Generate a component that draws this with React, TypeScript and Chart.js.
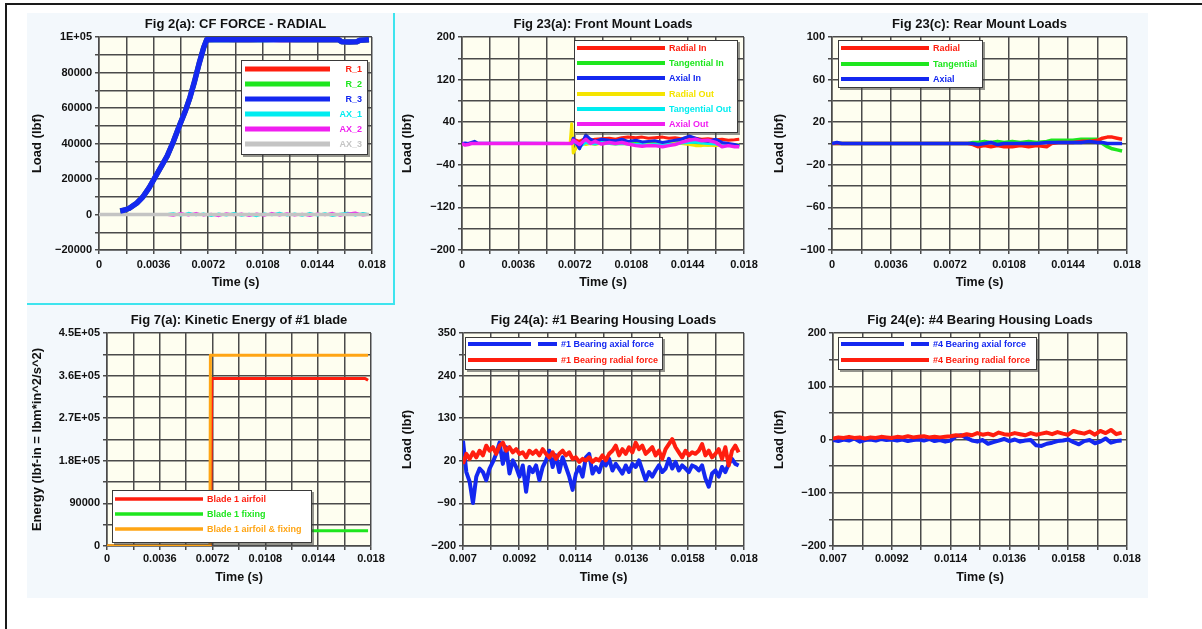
import React, { useEffect, useRef } from 'react';
import { Chart, registerables } from 'chart.js';

const FONT = '"Liberation Sans", Arial, Helvetica, sans-serif';

const RED = '#ff1e0f';
const GREEN = '#1ee61e';
const BLUE = '#1428f0';
const CYAN = '#00ecf0';
const MAGENTA = '#f01ef0';
const GRAY = '#c4c4c4';
const YELLOW = '#f5e400';
const ORANGE = '#ffa514';
const GRID = '#4a4a4a';

// ---------- tick grids / labels ----------
const X_GRID_A = [0, 0.0018, 0.0036, 0.0054, 0.0072, 0.009, 0.0108, 0.0126, 0.0144, 0.0162, 0.018];
const X_LABELS_A = ['0', '', '0.0036', '', '0.0072', '', '0.0108', '', '0.0144', '', '0.018'];
const X_GRID_B = [0.007, 0.0081, 0.0092, 0.0103, 0.0114, 0.0125, 0.0136, 0.0147, 0.0158, 0.0169, 0.018];
const X_LABELS_B = ['0.007', '', '0.0092', '', '0.0114', '', '0.0136', '', '0.0158', '', '0.018'];

const Y_GRID_1 = [-20000, -10000, 0, 10000, 20000, 30000, 40000, 50000, 60000, 70000, 80000, 90000, 100000];
const Y_LABELS_1 = ['\u221220000', '', '0', '', '20000', '', '40000', '', '60000', '', '80000', '', '1E+05'];
const Y_GRID_2 = [-200, -160, -120, -80, -40, 0, 40, 80, 120, 160, 200];
const Y_LABELS_2 = ['\u2212200', '', '\u2212120', '', '\u221240', '', '40', '', '120', '', '200'];
const Y_GRID_3 = [-100, -80, -60, -40, -20, 0, 20, 40, 60, 80, 100];
const Y_LABELS_3 = ['\u2212100', '', '\u221260', '', '\u221220', '', '20', '', '60', '', '100'];
const Y_GRID_4 = [0, 45000, 90000, 135000, 180000, 225000, 270000, 315000, 360000, 405000, 450000];
const Y_LABELS_4 = ['0', '', '90000', '', '1.8E+05', '', '2.7E+05', '', '3.6E+05', '', '4.5E+05'];
const Y_GRID_5 = [-200, -145, -90, -35, 20, 75, 130, 185, 240, 295, 350];
const Y_LABELS_5 = ['\u2212200', '', '\u221290', '', '20', '', '130', '', '240', '', '350'];
const Y_GRID_6 = [-200, -150, -100, -50, 0, 50, 100, 150, 200];
const Y_LABELS_6 = ['\u2212200', '', '\u2212100', '', '0', '', '100', '', '200'];

// ---------- Fig 2(a) CF FORCE - RADIAL ----------
const P1_R_T = [0.0014, 0.0017, 0.002, 0.0025, 0.0029, 0.0033, 0.0036, 0.004, 0.0045, 0.0049, 0.0053, 0.0057, 0.006, 0.0063, 0.0066, 0.0069, 0.0071, 0.0072, 0.008, 0.009, 0.01, 0.011, 0.012, 0.013, 0.014, 0.015, 0.0158, 0.016, 0.0165, 0.017, 0.0172, 0.0178];
const R_1 = [2000, 2500, 3500, 6500, 10000, 15000, 19500, 25500, 33000, 41000, 50000, 58500, 66000, 75000, 85000, 94000, 98500, 98500, 98700, 98400, 98500, 98700, 98400, 98500, 98600, 98400, 98500, 97300, 97200, 97300, 98200, 98500];
const R_2 = [2000, 2500, 3500, 6500, 10000, 15000, 19500, 25500, 33000, 41000, 50000, 58500, 66000, 75000, 85000, 94000, 98500, 98500, 98500, 98600, 98400, 98500, 98700, 98400, 98500, 98600, 98400, 97300, 97200, 97300, 98200, 98500];
const R_3 = [2000, 2500, 3500, 6500, 10000, 15000, 19500, 25500, 33000, 41000, 50000, 58500, 66000, 75000, 85000, 94000, 98500, 98500, 98600, 98400, 98500, 98600, 98400, 98500, 98600, 98400, 98500, 97300, 97200, 97300, 98200, 98500];
const P1_AX_T = [0, 0.0044, 0.0049, 0.0054, 0.0059, 0.0064, 0.0069, 0.0074, 0.0079, 0.0084, 0.0089, 0.0094, 0.0099, 0.0104, 0.0109, 0.0114, 0.0119, 0.0124, 0.0129, 0.0134, 0.0139, 0.0144, 0.0149, 0.0154, 0.0159, 0.0164, 0.0169, 0.0174, 0.0178];
const AX_1 = [0, 0, 600, -500, 800, -300, 500, -700, 400, -400, 700, -600, 300, -800, 500, -300, 900, -500, 400, -600, 800, -400, 600, -700, 300, 900, -500, 700, 0];
const AX_2 = [0, 0, -600, 700, -400, 800, -500, 300, -800, 600, -300, 500, -700, 400, -600, 800, -400, 600, -500, 300, -700, 500, -300, 800, -600, 400, 1000, -400, 0];
const P1_AX3_T = [0, 0.0178];
const AX_3 = [0, 0];

// ---------- Fig 23(a) Front Mount Loads ----------
const P2_T = [0, 0.0002, 0.0004, 0.0006, 0.0008, 0.001, 0.0069, 0.007, 0.0071, 0.0075, 0.0079, 0.0082, 0.0085, 0.0089, 0.0094, 0.0098, 0.0102, 0.0106, 0.0111, 0.0115, 0.0119, 0.0123, 0.0128, 0.0132, 0.0136, 0.014, 0.0145, 0.0149, 0.0153, 0.0157, 0.0162, 0.0166, 0.017, 0.0174, 0.0177];
const RADIAL_IN = [0, 0, 0, 0, 0, 0, 0, 0, 8, 4, 10, 6, 8, 9, 10, 8, 11, 12, 11, 12, 10, 11, 12, 10, 11, 9, 12, 10, 8, 9, 7, 8, 6, 7, 8];
const TANGENTIAL_IN = [0, 0, 0, 0, 0, 0, 0, 0, 5, -4, 4, 2, 1, 3, 2, 1, 2, 1, 0, 1, 0, 1, 2, 1, 2, 3, 2, 2, -2, -3, -2, -3, -4, -3, -4];
const AXIAL_IN = [0, 1, 0, 2, 4, 1, 0, 0, 10, -10, 16, 8, 4, 8, 6, 5, 8, 4, 6, 3, 4, 5, 2, 4, 6, 8, 14, 10, 6, 4, 8, 2, 0, -2, -4];
const RADIAL_OUT = [0, 0, 0, 0, 0, 0, 0, 37, -18, 2, -2, 0, -2, 1, 0, -1, 0, -1, -2, 0, -2, -1, 0, -1, 1, 0, -2, -4, -4, -3, -4, -3, -2, -3, -2];
const TANGENTIAL_OUT = [0, -1, 0, 0, 0, 0, 0, 0, 4, -6, 2, 0, -1, 2, 0, -1, 0, -1, -2, -2, -3, -2, -3, -2, -1, 1, 2, 3, 1, 0, -1, -4, -3, -4, -3];
const AXIAL_OUT = [0, -3, -2, 0, 0, 0, 0, 0, 6, -2, 8, 0, 4, -1, 2, 0, 2, -1, -4, -5, -4, -4, -6, -4, -2, 2, 6, 8, 5, 6, 2, -6, -4, -6, -6];

// ---------- Fig 23(c) Rear Mount Loads ----------
const P3_T = [0, 0.0003, 0.0006, 0.0083, 0.0086, 0.0089, 0.0093, 0.0097, 0.0101, 0.0105, 0.011, 0.0115, 0.012, 0.0125, 0.0131, 0.0134, 0.0138, 0.0142, 0.0147, 0.0152, 0.0157, 0.0162, 0.0165, 0.0168, 0.0171, 0.0174, 0.0177];
const REAR_RADIAL = [0, 0, 0, 0, -1, -3, -2, -3, -2, -3, -3, -2, -3, -2, -3, 0, 1, 1, 1, 2, 2, 3, 5, 6, 6, 5, 4];
const REAR_TANGENTIAL = [0, 0, 0, 0, 1, 1, 2, 1, 2, 1, 2, 1, 2, 1, 2, 3, 3, 3, 3, 4, 4, 4, 0, -3, -5, -6, -7];
const REAR_AXIAL = [0, 1, 0, 0, 0, -1, 0, 1, -1, 0, 0, 0, 0, 0, 1, 1, 1, 1, 1, 1, 2, 1, 1, 0, 0, 0, 0];

// ---------- Fig 7(a) Kinetic Energy ----------
const KE_AIRFOIL_T = [0, 0.00705, 0.00715, 0.0176, 0.0178];
const KE_AIRFOIL = [0, 0, 354000, 354000, 350000];
const KE_FIXING_T = [0, 0.00705, 0.00715, 0.0178];
const KE_FIXING = [0, 0, 32000, 32000];
const KE_TOTAL_T = [0, 0.00702, 0.00705, 0.0178];
const KE_TOTAL = [0, 0, 403000, 403000];

// ---------- Fig 24(a) #1 Bearing Housing Loads ----------
const P5_T = [
  0.007, 0.00713, 0.00726, 0.00739, 0.00752, 0.00765, 0.00778, 0.00791, 0.00804, 0.00817,
  0.0083, 0.00843, 0.00856, 0.00869, 0.00882, 0.00895, 0.00908, 0.00921, 0.00934, 0.00947,
  0.0096, 0.00973, 0.00986, 0.00999, 0.01012, 0.01025, 0.01038, 0.01051, 0.01064, 0.01077,
  0.0109, 0.01103, 0.01116, 0.01129, 0.01142, 0.01155, 0.01168, 0.01181, 0.01194, 0.01207,
  0.0122, 0.01233, 0.01246, 0.01259, 0.01272, 0.01285, 0.01298, 0.01311, 0.01324, 0.01337,
  0.0135, 0.01363, 0.01376, 0.01389, 0.01402, 0.01415, 0.01428, 0.01441, 0.01454, 0.01467,
  0.0148, 0.01493, 0.01506, 0.01519, 0.01532, 0.01545, 0.01558, 0.01571, 0.01584, 0.01597,
  0.0161, 0.01623, 0.01636, 0.01649, 0.01662, 0.01675, 0.01688, 0.01701, 0.01714, 0.01727,
  0.0174, 0.01753, 0.01766, 0.01779,
];
const B1_RADIAL = [
  12, 38, 25, 42, 29, 46, 34, 59, 46, 55,
  38, 59, 67, 46, 55, 42, 50, 38, 42, 29,
  46, 38, 46, 34, 50, 38, 29, 42, 25, 38,
  46, 34, 42, 25, 29, 17, 25, 21, 29, 17,
  25, 21, 34, 21, 38, 46, 59, 34, 50, 38,
  55, 42, 67, 50, 59, 38, 46, 55, 34, 46,
  25, 50, 63, 76, 55, 42, 29, 46, 34, 42,
  38, 46, 63, 34, 46, 29, 38, 50, 25, 55,
  8, 46, 59, 42,
];
const B1_AXIAL = [
  72, -9, -34, -89, -21, 0, -9, -30, 0, 17,
  38, 67, 12, 55, -13, 21, 4, -21, 8, -60,
  4, -9, 8, -30, 4, 21, 46, 4, 34, -9,
  29, 4, -21, -55, -13, 4, -21, 29, 38, -13,
  4, -9, 17, 8, 25, -5, 12, 0, -13, 8,
  -9, 12, 4, 21, -5, -30, -9, -21, -5, 8,
  -9, 0, 25, 0, 17, -5, 8, 0, -9, 8,
  4, -5, 8, -26, -47, -13, -5, -21, 4, -9,
  12, 25, 12, 8,
];

// ---------- Fig 24(e) #4 Bearing Housing Loads ----------
const P6_T = [
  0.007, 0.0072, 0.0074, 0.0076, 0.0078, 0.008, 0.0082, 0.0084, 0.0086, 0.0088,
  0.009, 0.0092, 0.0094, 0.0096, 0.0098, 0.01, 0.0102, 0.0104, 0.0106, 0.0108,
  0.011, 0.0112, 0.0114, 0.0116, 0.0118, 0.012, 0.0122, 0.0124, 0.0126, 0.0128,
  0.013, 0.0132, 0.0134, 0.0136, 0.0138, 0.014, 0.0142, 0.0144, 0.0146, 0.0148,
  0.015, 0.0152, 0.0154, 0.0156, 0.0158, 0.016, 0.0162, 0.0164, 0.0166, 0.0168,
  0.017, 0.0172, 0.0174, 0.0176, 0.0178,
];
const B4_RADIAL = [
  2, 4, 3, 5, 3, 4, 2, 4, 3, 5,
  4, 3, 5, 4, 6, 4, 5, 6, 4, 5,
  4, 5, 6, 8, 7, 10, 8, 12, 9, 11,
  8, 13, 10, 9, 12, 10, 8, 12, 9, 11,
  13, 10, 14, 11, 9, 16, 13, 11, 15, 9,
  16, 12, 18, 10, 13,
];
const B4_AXIAL = [
  -1, -3, 0, -2, 2, -4, -1, 0, -2, 1,
  -1, 0, -2, 0, -3, -1, 0, -2, 1, -3,
  -1, -4, -2, 6, 8, 3, -2, -4, -1, -8,
  -5, -2, 1, -3, 0, -4, -2, -1, -11, -12,
  -8, -6, -3, -2, 0, -5, -9, -3, -1, -7,
  -4, 2, -6, -3, -2,
];

// ---------- plugins ----------
const plotBg = {
  id: 'plotBg',
  beforeDraw(chart: any, _a: any, opts: any) {
    const { ctx, chartArea } = chart;
    if (!chartArea) return;
    ctx.save();
    ctx.fillStyle = (opts && opts.color) || '#fefef0';
    ctx.fillRect(chartArea.left, chartArea.top, chartArea.right - chartArea.left, chartArea.bottom - chartArea.top);
    ctx.restore();
  },
};

const boxLegend = {
  id: 'boxLegend',
  afterDatasetsDraw(chart: any, _a: any, opts: any) {
    if (!opts || !opts.w) return;
    const { ctx, chartArea } = chart;
    const x = chartArea.left + opts.dx;
    const y = chartArea.top + opts.dy;
    ctx.save();
    ctx.fillStyle = 'rgba(60,60,60,0.55)';
    ctx.fillRect(x + 2, y + 2, opts.w, opts.h);
    ctx.fillStyle = '#ffffff';
    ctx.fillRect(x, y, opts.w, opts.h);
    ctx.strokeStyle = '#3a3a3a';
    ctx.lineWidth = 1;
    ctx.strokeRect(x + 0.5, y + 0.5, opts.w - 1, opts.h - 1);
    chart.data.datasets.forEach((ds: any, i: number) => {
      const ry = Math.round(y + opts.row0 + i * opts.rowGap);
      ctx.strokeStyle = ds.borderColor;
      ctx.lineWidth = opts.lineWidth;
      ctx.setLineDash(ds.legendDash || []);
      ctx.beginPath();
      ctx.moveTo(x + opts.l0, ry);
      ctx.lineTo(x + opts.l1, ry);
      ctx.stroke();
      ctx.setLineDash([]);
      ctx.fillStyle = ds.borderColor;
      ctx.font = `bold 9px ${FONT}`;
      ctx.textAlign = opts.align;
      ctx.textBaseline = 'middle';
      ctx.fillText(ds.label, x + opts.tx, ry + 0.5);
    });
    ctx.restore();
  },
};

Chart.register(...registerables, plotBg, boxLegend);

type Series = { label: string; t: number[]; v: number[]; color: string; width: number; order: number; legendDash?: number[] };

type Panel = {
  left: number; top: number; width: number; height: number;
  title: string; yTitle: string;
  xMin: number; xMax: number; xGrid: number[]; xLabels: string[];
  yMin: number; yMax: number; yGrid: number[]; yLabels: string[];
  yAxisWidth: number; xLabelPad: number; xTitlePad: number;
  series: Series[];
  legend: any;
};

const PANELS: Panel[] = [
  {
    left: 30, top: 12, width: 362, height: 290,
    title: 'Fig 2(a): CF FORCE - RADIAL', yTitle: 'Load (lbf)',
    xMin: 0, xMax: 0.018, xGrid: X_GRID_A, xLabels: X_LABELS_A,
    yMin: -20000, yMax: 100000, yGrid: Y_GRID_1, yLabels: Y_LABELS_1,
    yAxisWidth: 69, xLabelPad: 4, xTitlePad: 11.5,
    series: [
      { label: 'R_1', t: P1_R_T, v: R_1, color: RED, width: 5, order: 3 },
      { label: 'R_2', t: P1_R_T, v: R_2, color: GREEN, width: 5, order: 2 },
      { label: 'R_3', t: P1_R_T, v: R_3, color: BLUE, width: 5.5, order: 0 },
      { label: 'AX_1', t: P1_AX_T, v: AX_1, color: CYAN, width: 2.5, order: 5 },
      { label: 'AX_2', t: P1_AX_T, v: AX_2, color: MAGENTA, width: 2.5, order: 4 },
      { label: 'AX_3', t: P1_AX3_T, v: AX_3, color: GRAY, width: 3.5, order: 1 },
    ],
    legend: { dx: 142, dy: 23, w: 127, h: 95, row0: 9, rowGap: 15, l0: 4, l1: 89, tx: 121, align: 'right', lineWidth: 5 },
  },
  {
    left: 400, top: 12, width: 364, height: 290,
    title: 'Fig 23(a): Front Mount Loads', yTitle: 'Load (lbf)',
    xMin: 0, xMax: 0.018, xGrid: X_GRID_A, xLabels: X_LABELS_A,
    yMin: -200, yMax: 200, yGrid: Y_GRID_2, yLabels: Y_LABELS_2,
    yAxisWidth: 62, xLabelPad: 4, xTitlePad: 11.5,
    series: [
      { label: 'Radial In', t: P2_T, v: RADIAL_IN, color: RED, width: 3, order: 2 },
      { label: 'Tangential In', t: P2_T, v: TANGENTIAL_IN, color: GREEN, width: 3, order: 5 },
      { label: 'Axial In', t: P2_T, v: AXIAL_IN, color: BLUE, width: 3, order: 1 },
      { label: 'Radial Out', t: P2_T, v: RADIAL_OUT, color: YELLOW, width: 3, order: 4 },
      { label: 'Tangential Out', t: P2_T, v: TANGENTIAL_OUT, color: CYAN, width: 3, order: 3 },
      { label: 'Axial Out', t: P2_T, v: AXIAL_OUT, color: MAGENTA, width: 3.5, order: 0 },
    ],
    legend: { dx: 112, dy: 3, w: 164, h: 93, row0: 8, rowGap: 15.2, l0: 3, l1: 91, tx: 95, align: 'left', lineWidth: 4 },
  },
  {
    left: 772, top: 12, width: 375, height: 290,
    title: 'Fig 23(c): Rear Mount Loads', yTitle: 'Load (lbf)',
    xMin: 0, xMax: 0.018, xGrid: X_GRID_A, xLabels: X_LABELS_A,
    yMin: -100, yMax: 100, yGrid: Y_GRID_3, yLabels: Y_LABELS_3,
    yAxisWidth: 60, xLabelPad: 4, xTitlePad: 11.5,
    series: [
      { label: 'Radial', t: P3_T, v: REAR_RADIAL, color: RED, width: 3.5, order: 1 },
      { label: 'Tangential', t: P3_T, v: REAR_TANGENTIAL, color: GREEN, width: 3.5, order: 2 },
      { label: 'Axial', t: P3_T, v: REAR_AXIAL, color: BLUE, width: 3.5, order: 0 },
    ],
    legend: { dx: 6, dy: 3, w: 145, h: 48, row0: 8, rowGap: 15.5, l0: 3, l1: 91, tx: 95, align: 'left', lineWidth: 4 },
  },
  {
    left: 30, top: 308, width: 361, height: 290,
    title: 'Fig 7(a): Kinetic Energy of #1 blade', yTitle: 'Energy (lbf-in = lbm*in^2/s^2)',
    xMin: 0, xMax: 0.018, xGrid: X_GRID_A, xLabels: X_LABELS_A,
    yMin: 0, yMax: 450000, yGrid: Y_GRID_4, yLabels: Y_LABELS_4,
    yAxisWidth: 77, xLabelPad: 2, xTitlePad: 12.5,
    series: [
      { label: 'Blade 1 airfoil', t: KE_AIRFOIL_T, v: KE_AIRFOIL, color: RED, width: 3, order: 1 },
      { label: 'Blade 1 fixing', t: KE_FIXING_T, v: KE_FIXING, color: GREEN, width: 3, order: 2 },
      { label: 'Blade 1 airfoil & fixing', t: KE_TOTAL_T, v: KE_TOTAL, color: ORANGE, width: 3, order: 0 },
    ],
    legend: { dx: 5, dy: 157, w: 200, h: 53, row0: 8.7, rowGap: 15, l0: 3, l1: 91, tx: 95, align: 'left', lineWidth: 3.5 },
  },
  {
    left: 400, top: 308, width: 364, height: 290,
    title: 'Fig 24(a): #1 Bearing Housing Loads', yTitle: 'Load (lbf)',
    xMin: 0.007, xMax: 0.018, xGrid: X_GRID_B, xLabels: X_LABELS_B,
    yMin: -200, yMax: 350, yGrid: Y_GRID_5, yLabels: Y_LABELS_5,
    yAxisWidth: 63, xLabelPad: 2, xTitlePad: 12.5,
    series: [
      { label: '#1 Bearing axial force', t: P5_T, v: B1_AXIAL, color: BLUE, width: 4, order: 1, legendDash: [63, 7] },
      { label: '#1 Bearing radial force', t: P5_T, v: B1_RADIAL, color: RED, width: 4, order: 0 },
    ],
    legend: { dx: 2, dy: 4, w: 198, h: 33, row0: 7, rowGap: 16, l0: 3, l1: 92, tx: 96, align: 'left', lineWidth: 4 },
  },
  {
    left: 772, top: 308, width: 375, height: 290,
    title: 'Fig 24(e): #4 Bearing Housing Loads', yTitle: 'Load (lbf)',
    xMin: 0.007, xMax: 0.018, xGrid: X_GRID_B, xLabels: X_LABELS_B,
    yMin: -200, yMax: 200, yGrid: Y_GRID_6, yLabels: Y_LABELS_6,
    yAxisWidth: 61, xLabelPad: 2, xTitlePad: 12.5,
    series: [
      { label: '#4 Bearing axial force', t: P6_T, v: B4_AXIAL, color: BLUE, width: 4, order: 1, legendDash: [63, 7] },
      { label: '#4 Bearing radial force', t: P6_T, v: B4_RADIAL, color: RED, width: 4, order: 0 },
    ],
    legend: { dx: 5, dy: 4, w: 199, h: 33, row0: 7, rowGap: 16, l0: 3, l1: 91, tx: 95, align: 'left', lineWidth: 4 },
  },
];

function buildConfig(p: Panel): any {
  const tickFont = { family: FONT, size: 11, weight: 'bold' };
  return {
    type: 'line',
    data: {
      datasets: p.series.map((s) => ({
        label: s.label,
        data: s.t.map((t, i) => ({ x: t, y: s.v[i] })),
        borderColor: s.color,
        backgroundColor: s.color,
        borderWidth: s.width,
        borderJoinStyle: 'round',
        pointRadius: 0,
        pointHoverRadius: 0,
        tension: 0,
        fill: false,
        order: s.order,
        legendDash: s.legendDash,
      })),
    },
    options: {
      responsive: false,
      animation: false,
      events: [],
      layout: { padding: { left: 0, right: 20, top: 0, bottom: 0 } },
      plugins: {
        legend: { display: false },
        tooltip: { enabled: false },
        title: {
          display: true,
          fullSize: false,
          text: p.title,
          color: '#111',
          font: { family: FONT, size: 13, weight: 'bold' },
          padding: { top: 4.2, bottom: 5.2 },
        },
        plotBg: { color: '#fefef0' },
        boxLegend: p.legend,
      },
      scales: {
        x: {
          type: 'linear',
          min: p.xMin,
          max: p.xMax,
          afterBuildTicks: (sc: any) => { sc.ticks = p.xGrid.map((v) => ({ value: v })); },
          afterFit: (sc: any) => { sc.height = 52; },
          ticks: {
            autoSkip: false, maxRotation: 0, minRotation: 0,
            padding: p.xLabelPad, color: '#111', font: tickFont,
            callback: (_v: any, i: number) => p.xLabels[i],
          },
          grid: { color: GRID, lineWidth: 1.5, tickLength: 4, tickColor: GRID },
          border: { display: true, color: GRID, width: 1.5 },
          title: {
            display: true, text: 'Time (s)', color: '#111',
            font: { family: FONT, size: 12.5, weight: 'bold' },
            padding: { top: 0, bottom: p.xTitlePad },
          },
        },
        y: {
          type: 'linear',
          min: p.yMin,
          max: p.yMax,
          afterBuildTicks: (sc: any) => { sc.ticks = p.yGrid.map((v) => ({ value: v })); },
          afterFit: (sc: any) => { sc.width = p.yAxisWidth; },
          ticks: {
            autoSkip: false, padding: 3, color: '#111', font: tickFont,
            callback: (_v: any, i: number) => p.yLabels[i],
          },
          grid: { color: GRID, lineWidth: 1.5, tickLength: 4, tickColor: GRID },
          border: { display: true, color: GRID, width: 1.5 },
          title: {
            display: true, text: p.yTitle, color: '#111',
            font: { family: FONT, size: 13, weight: 'bold' },
            padding: { top: 0, bottom: 0 },
          },
        },
      },
    },
  };
}

function ChartPanel({ panel }: { panel: Panel }) {
  const ref = useRef<HTMLCanvasElement>(null);
  useEffect(() => {
    const chart = new Chart(ref.current as HTMLCanvasElement, buildConfig(panel));
    return () => chart.destroy();
  }, [panel]);
  return (
    <canvas
      ref={ref}
      width={panel.width}
      height={panel.height}
      style={{ position: 'absolute', left: panel.left, top: panel.top, width: panel.width, height: panel.height }}
    />
  );
}

export default function App() {
  return (
    <div style={{ position: 'fixed', left: 0, top: 0, width: 1202, height: 629, background: '#ffffff', overflow: 'hidden' }}>
      <div style={{ position: 'absolute', left: 5, top: 3, width: 1197, height: 2, background: '#1a1a1a' }} />
      <div style={{ position: 'absolute', left: 5, top: 3, width: 2, height: 626, background: '#1a1a1a' }} />
      <div style={{ position: 'absolute', left: 27, top: 13, width: 1121, height: 585, background: '#f3f8fc' }} />
      <div style={{ position: 'absolute', left: 393, top: 13, width: 2, height: 292, background: '#3ee4ee' }} />
      <div style={{ position: 'absolute', left: 27, top: 303, width: 368, height: 2, background: '#3ee4ee' }} />
      {PANELS.map((p, i) => (
        <ChartPanel key={i} panel={p} />
      ))}
    </div>
  );
}
